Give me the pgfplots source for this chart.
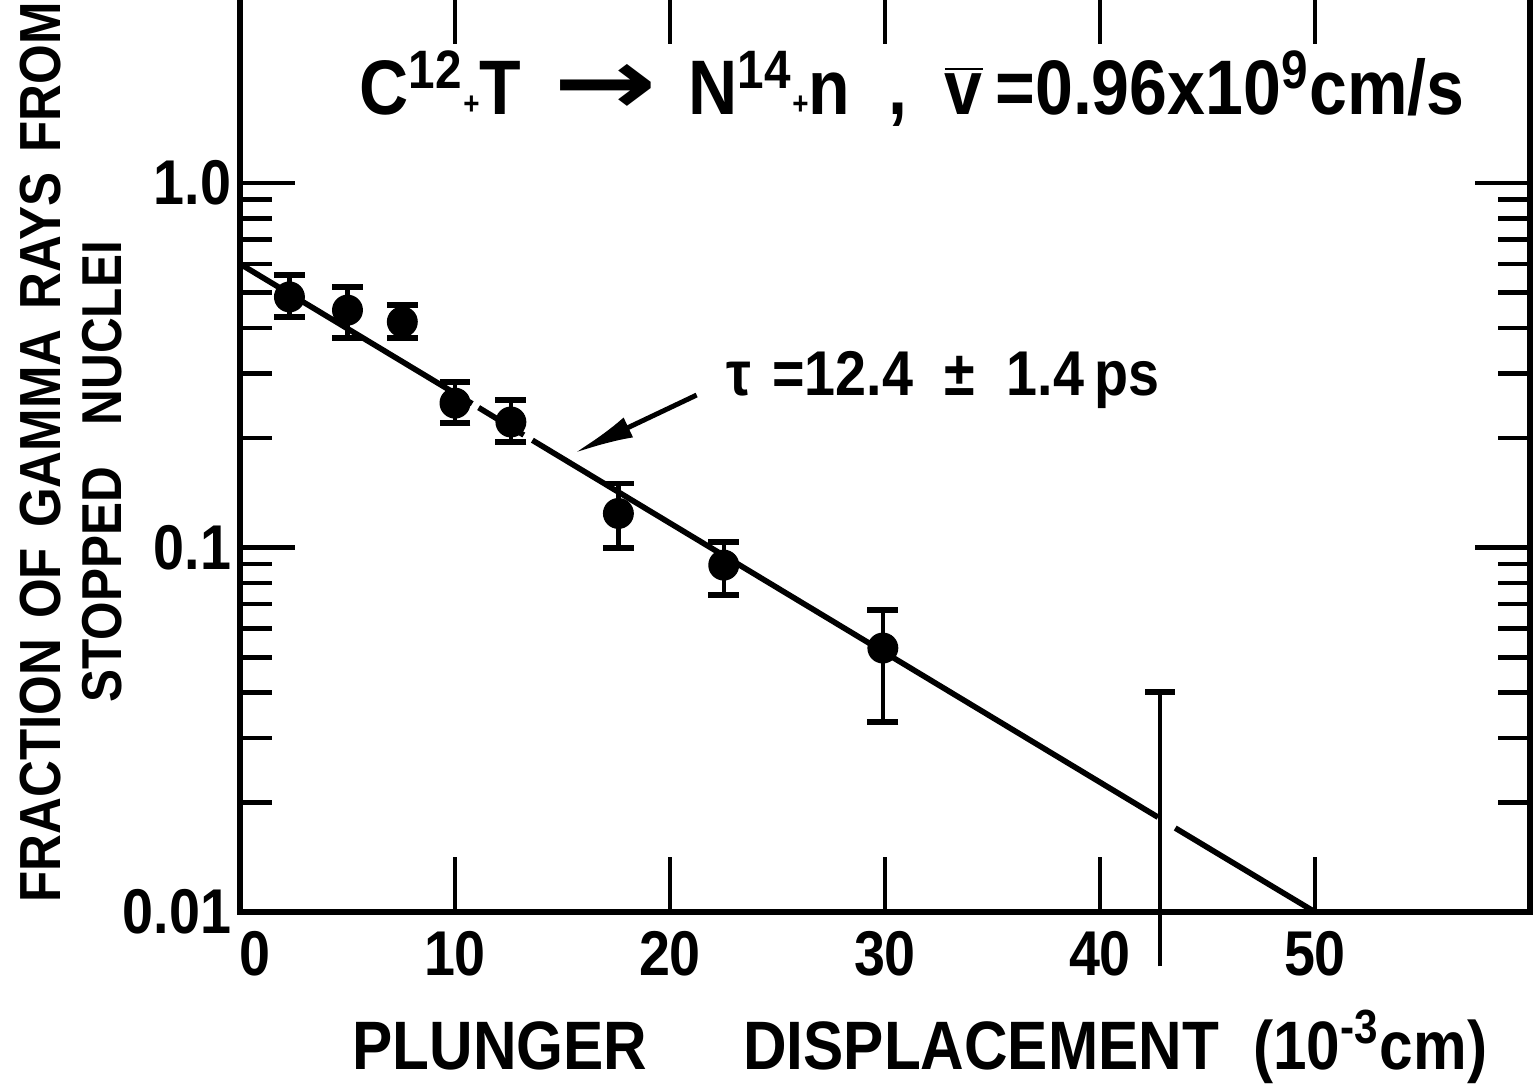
\documentclass[border=0pt]{standalone}
\usepackage{fontspec}
\setmainfont{Liberation Sans}[FakeStretch=0.88]
\newfontfamily\dv{DejaVu Sans}
\usepackage{pgfplots}
\pgfplotsset{compat=1.18}
\usetikzlibrary{arrows.meta}
\begin{document}
\begin{tikzpicture}
\begin{axis}[
  name=ax,
  scale only axis, width=12.90cm, height=9.227cm,
  xmin=0, xmax=60, ymode=log, ymin=0.01, ymax=3.4,
  clip=false,
  axis line style={line width=1.5pt},
  tick align=inside,
  major tick length=0.55cm, minor tick length=0.32cm,
  tick style={black, line width=1.3pt},
  xtick={0,10,20,30,40,50}, xticklabels={\hspace*{0.3cm}0,10,20,30,40,50},
  ytick={0.01,0.1,1}, yticklabels={\raisebox{-0.15cm}{0.01},0.1,1.0},
  minor ytick={0.02,0.03,0.04,0.05,0.06,0.07,0.08,0.09,0.2,0.3,0.4,0.5,0.6,0.7,0.8,0.9},
  /pgf/number format/assume math mode=true,
  ticklabel style={font=\bfseries\fontsize{18}{18}\selectfont},
  xticklabel style={yshift=-2pt},
  yticklabel style={xshift=1pt},
]
% fitted line
\addplot[black, line width=1.6pt, mark=none, unbounded coords=jump] coordinates {
 (0,0.6) (10.8,0.248) (10.95,nan) (11.1,0.242) (13.2,0.2035) (13.4,nan)
 (13.6,0.197) (42.7,0.0182) (43.1,nan) (43.5,0.0170) (50,0.01)
};
% data points
\addplot[black, only marks, mark=*, mark size=4.2pt,
  error bars/.cd, y dir=both, y explicit,
  error bar style={line width=1.2pt, draw=black},
  error mark options={black, rotate=90, mark size=4.4pt, line width=1.6pt}]
coordinates {
 (2.3,0.487) += (0,0.072) -= (0,0.058)
 (5.0,0.448) += (0,0.070) -= (0,0.072)
 (7.55,0.416) += (0,0.047) -= (0,0.040)
 (10.0,0.249) += (0,0.036) -= (0,0.0294)
 (12.6,0.221) += (0,0.033) -= (0,0.026)
 (17.6,0.124) += (0,0.026) -= (0,0.0243)
 (22.5,0.0895) += (0,0.014) -= (0,0.0154)
 (29.9,0.053) += (0,0.0144) -= (0,0.0198)
};
% last point: error bar only (no marker), bar runs below the axis
\addplot[black, line width=1.2pt, mark=none] coordinates {(42.8,0.0071) (42.8,0.0401)};
\addplot[black, line width=1.6pt, mark=none] coordinates {(42.1,0.0401) (43.5,0.0401)};
% annotation
\draw[line width=1.4pt, -{Latex[length=0.6cm,width=0.22cm]}] (axis cs:21.24,0.262) -- (axis cs:15.54,0.1815);
\node[font=\bfseries\fontsize{18}{18}\selectfont] at (axis cs:32.7,0.288) {τ\,\,=12.4\,\,\,±\,\,\,1.4\,ps};
% title
\node[anchor=base, font=\bfseries\fontsize{22}{22}\selectfont] at (rel axis cs:0.521,0.864)
 {C\textsuperscript{12}{\small +}T \,\scalebox{1.6}[1.2]{\dv\bfseries →}\, N\textsuperscript{14}{\small +}n\ \ ,\ \ $\overline{\hbox{v}}$\,=0.96x10\textsuperscript{9}cm/s};
% axis labels
\node[anchor=base, font=\bfseries\fontsize{19.5}{19.5}\selectfont] at (rel axis cs:0.527,-0.171)
 {PLUNGER\hspace{1.4em}DISPLACEMENT\hspace{0.5em}(10\textsuperscript{-3}cm)};
\node[rotate=90, anchor=base west, font=\bfseries\fontsize{16.5}{16.5}\selectfont] at (rel axis cs:-0.1395,-0.003)
 {FRACTION\hspace{0.1em} OF\hspace{0.1em} GAMMA\hspace{0.1em} RAYS\hspace{0.1em} FROM};
\node[rotate=90, anchor=base west, font=\bfseries\fontsize{16}{16}\selectfont] at (rel axis cs:-0.0915,0.2135)
 {STOPPED\hspace{0.5em} NUCLEI};
\end{axis}
\pgfresetboundingbox
\path[use as bounding box] ([shift={(-2.40cm,-1.78cm)}]ax.south west) rectangle ([shift={(12.93cm,9.12cm)}]ax.south west);
\end{tikzpicture}
\end{document}
